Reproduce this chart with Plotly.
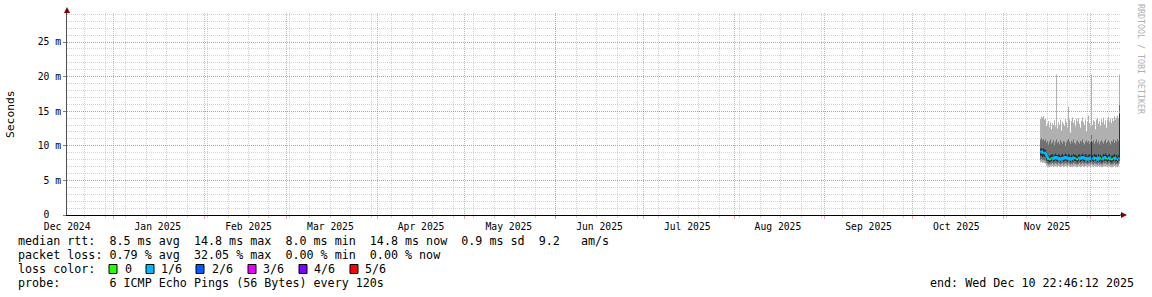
import plotly.graph_objects as go
import pandas as pd

# ---------------- data ----------------
END = pd.Timestamp("2025-12-10 22:46:12")
SPAN_DAYS = 360
START = END - pd.Timedelta(days=SPAN_DAYS)
COL_STEP = pd.Timedelta(minutes=492)   # one consolidated column

# smoke: sorted pings per column (ms)
P6 = [13.9, 14.2, 14.1, 14.3, 13.8, 14.0,
      12.9, 13.2, 13.6, 12.7, 13.4, 12.4, 13.3, 13.0, 13.7, 12.8,
      20.3, 12.5, 13.4, 13.0, 13.8, 12.2, 13.5, 13.2, 12.9, 13.9, 13.4, 12.6,
      15.7, 13.8, 11.9, 13.6, 14.1, 13.3, 13.7, 12.8, 13.9, 13.5, 14.0, 13.2, 12.6, 13.6, 14.1, 13.4, 13.0, 13.8, 12.1, 13.5, 14.4, 13.3, 12.8,
      20.3,
      13.0, 13.7, 13.5, 12.4, 13.8, 14.0, 13.2, 13.6, 12.9, 13.9, 13.4, 14.1, 13.1, 13.7, 12.6, 13.8, 14.2, 13.5, 13.9, 13.3, 14.0, 13.6, 14.3, 13.8, 14.1, 14.4, 14.0,
      20.3]
P5 = [10.9, 11.1, 10.8, 11.0, 10.7, 10.9,
      10.4, 10.7, 10.2, 10.6, 10.9, 10.3, 10.5, 10.8, 10.1, 10.6,
      10.9, 10.4, 10.6, 10.2, 10.8, 10.5, 10.3, 10.7, 10.6, 10.0, 10.5, 10.8,
      11.0, 10.6, 10.3, 10.7, 10.5, 10.9, 10.4, 10.2, 10.6, 10.8, 10.5, 10.3, 10.7, 10.6, 10.9, 10.4, 10.2, 10.6, 10.8, 10.5, 10.7, 10.3, 10.6,
      11.6,
      10.5, 10.8, 10.3, 10.6, 10.9, 10.4, 10.7, 10.2, 10.6, 10.8, 10.5, 10.3, 10.7, 10.9, 10.4, 10.6, 10.8, 10.5, 10.2, 10.7, 10.6, 10.9, 10.4, 10.8, 10.6, 11.0, 10.7,
      15.9]
P4 = [9.6, 9.7, 9.5, 9.6, 9.5, 9.4,
      9.1, 8.8, 8.6, 8.5, 8.7, 8.7, 8.8, 8.6, 8.7, 8.9,
      8.7, 8.6, 8.8, 8.7, 8.5, 8.7, 8.8, 8.6, 8.7, 8.9, 8.7, 8.6,
      8.8, 8.7, 8.5, 8.7, 8.6, 8.8, 8.7, 8.7, 8.6, 8.5, 8.7, 8.8, 8.6, 8.7, 8.9, 8.7, 8.6, 8.8, 8.7, 8.5, 8.7, 8.8, 8.6,
      10.8,
      8.7, 8.6, 8.8, 8.7, 8.7, 8.5, 8.8, 8.6, 8.7, 8.5, 8.6, 8.8, 8.7, 8.9, 8.7, 8.6, 8.7, 8.8, 8.6, 8.5, 8.6, 8.7, 8.8, 8.6, 8.7, 8.5, 8.7,
      14.8]
MEDIAN = [9.1, 9.2, 9.0, 9.1, 9.0, 8.9,
          8.6, 8.3, 8.1, 8.0, 8.1, 8.2, 8.3, 8.1, 8.2, 8.4,
          8.2, 8.1, 8.3, 8.2, 8.0, 8.2, 8.3, 8.1, 8.2, 8.4, 8.2, 8.1,
          8.3, 8.2, 8.0, 8.2, 8.1, 8.3, 8.2, 8.2, 8.1, 8.0, 8.2, 8.3, 8.1, 8.2, 8.4, 8.2, 8.1, 8.3, 8.2, 8.0, 8.2, 8.3, 8.1,
          10.8,
          8.2, 8.1, 8.3, 8.2, 8.2, 8.0, 8.3, 8.1, 8.2, 8.0, 8.1, 8.3, 8.2, 8.4, 8.2, 8.1, 8.2, 8.3, 8.1, 8.0, 8.1, 8.2, 8.3, 8.1, 8.2, 8.0, 8.2,
          14.8]
P3 = [8.5, 8.6, 8.4, 8.5, 8.4, 8.3,
      7.9, 7.8, 7.7, 7.6, 7.7, 7.8, 7.9, 7.7, 7.8, 7.9,
      7.8, 7.7, 7.9, 7.8, 7.6, 7.8, 7.9, 7.7, 7.8, 7.9, 7.8, 7.7,
      7.9, 7.8, 7.6, 7.8, 7.7, 7.9, 7.8, 7.8, 7.7, 7.6, 7.8, 7.9, 7.7, 7.8, 7.9, 7.8, 7.7, 7.9, 7.8, 7.6, 7.8, 7.9, 7.7,
      8.0,
      7.8, 7.7, 7.9, 7.8, 7.8, 7.6, 7.9, 7.7, 7.8, 7.6, 7.7, 7.9, 7.8, 7.9, 7.8, 7.7, 7.8, 7.9, 7.7, 7.6, 7.7, 7.8, 7.9, 7.7, 7.8, 7.6, 7.8,
      8.3]
P2 = [8.0, 8.1, 7.9, 8.0, 7.9, 7.8,
      7.5, 7.4, 7.3, 7.3, 7.4, 7.4, 7.5, 7.3, 7.4, 7.5,
      7.4, 7.3, 7.5, 7.4, 7.3, 7.4, 7.5, 7.3, 7.4, 7.5, 7.4, 7.3,
      7.5, 7.4, 7.3, 7.4, 7.3, 7.5, 7.4, 7.4, 7.3, 7.3, 7.4, 7.5, 7.3, 7.4, 7.5, 7.4, 7.3, 7.5, 7.4, 7.3, 7.4, 7.5, 7.3,
      7.6,
      7.4, 7.3, 7.5, 7.4, 7.4, 7.3, 7.5, 7.3, 7.4, 7.3, 7.3, 7.5, 7.4, 7.5, 7.4, 7.3, 7.4, 7.5, 7.3, 7.3, 7.3, 7.4, 7.5, 7.3, 7.4, 7.3, 7.4,
      7.8]
P1 = [7.6, 7.7, 7.5, 7.6, 7.5, 7.4,
      7.1, 7.0, 6.9, 6.9, 7.0, 7.0, 7.1, 6.9, 7.0, 7.1,
      7.0, 6.9, 7.1, 7.0, 6.9, 7.0, 7.1, 6.9, 7.0, 7.1, 7.0, 6.9,
      7.1, 7.0, 6.9, 7.0, 6.9, 7.1, 7.0, 7.0, 6.9, 6.9, 7.0, 7.1, 6.9, 7.0, 7.1, 7.0, 6.9, 7.1, 7.0, 6.9, 7.0, 7.1, 6.9,
      7.2,
      7.0, 6.9, 7.1, 7.0, 7.0, 6.9, 7.1, 6.9, 7.0, 6.9, 6.9, 7.1, 7.0, 7.1, 7.0, 6.9, 7.0, 7.1, 6.9, 6.9, 6.9, 7.0, 7.1, 6.9, 7.0, 6.9, 7.0,
      7.4]
# lost pings (out of 6) per column
LOSS = [1, 1, 1, 1, 1, 1,
        1, 1, 1, 0, 0, 1, 1, 1, 1, 1,
        1, 1, 1, 1, 1, 1, 1, 1, 1, 1, 1, 1,
        1, 1, 1, 1, 1, 1, 1, 1, 0, 0, 1, 1, 1, 1, 1, 1, 1, 1, 1, 1, 1, 1, 1,
        0,
        1, 1, 1, 1, 1, 1, 1, 1, 0, 1, 1, 1, 1, 1, 0, 1, 1, 1, 1, 0, 0, 1, 1, 1, 1, 0, 1,
        0]

MONTH_STARTS = ["2024-12-01", "2025-01-01", "2025-02-01", "2025-03-01", "2025-04-01",
                "2025-05-01", "2025-06-01", "2025-07-01", "2025-08-01", "2025-09-01",
                "2025-10-01", "2025-11-01", "2025-12-01"]
MONTH_LABELS = ["Dec 2024", "Jan 2025", "Feb 2025", "Mar 2025", "Apr 2025", "May 2025",
                "Jun 2025", "Jul 2025", "Aug 2025", "Sep 2025", "Oct 2025", "Nov 2025"]
FIRST_WEEK_START = "2024-12-22"
YTICK_VALS = [0, 5, 10, 15, 20, 25]
YTICK_TEXT = ["0\u00a0\u00a0", "5 m", "10 m", "15 m", "20 m", "25 m"]
Y_MAX = 29.2

LOSS_COLORS = ["#26ff00", "#00b8ff", "#0059ff", "#e600ff", "#7e00ff", "#ff0000"]
LOSS_NAMES = ["0", "1/6", "2/6", "3/6", "4/6", "5/6"]
SMOKE_COLORS = ["#b0b0b0", "#717171", "#323232"]

LEGEND_ROWS = [
    "median rtt:  8.5 ms avg  14.8 ms max  8.0 ms min  14.8 ms now  0.9 ms sd  9.2   am/s",
    "packet loss: 0.79 % avg  32.05 % max  0.00 % min  0.00 % now",
    "loss color:",
    "probe:       6 ICMP Echo Pings (56 Bytes) every 120s",
]
END_TEXT = "end: Wed Dec 10 22:46:12 2025"
SIDE_TEXT = "RRDTOOL / TOBI OETIKER"

# ---------------- layout constants ----------------
W, H = 1152, 297
ML, MR, MT, MB = 67, 32, 13, 82
PW, PH = W - ML - MR, H - MT - MB
MGRID = "rgba(232,80,80,0.5)"
GRID = "rgba(150,150,150,0.42)"
ARROW = "#7f0000"
FONT = "DejaVu Sans Mono"


def pxx(px):
    return (px - ML) / PW


def pxy(py):
    return (H - MB - py) / PH


N = len(MEDIAN)
edges = [END - COL_STEP * (N - i) for i in range(N + 1)]


def stepped(vals):
    return list(vals) + [vals[-1]]


fig = go.Figure()

# smoke bands
for lo, hi, col in [(P1, P6, SMOKE_COLORS[0]), (P2, P5, SMOKE_COLORS[1]), (P3, P4, SMOKE_COLORS[2])]:
    fig.add_trace(go.Scatter(x=edges, y=stepped(lo), mode="lines", line=dict(width=0, shape="hv"),
                             hoverinfo="skip", showlegend=False))
    fig.add_trace(go.Scatter(x=edges, y=stepped(hi), mode="lines", line=dict(width=0, shape="hv"),
                             fill="tonexty", fillcolor=col, hoverinfo="skip", showlegend=False))

# median, coloured by loss
for lvl, col in enumerate(LOSS_COLORS):
    xs, ys = [], []
    i = 0
    while i < N:
        if LOSS[i] == lvl:
            while i < N and LOSS[i] == lvl:
                xs += [edges[i], edges[i + 1]]
                ys += [MEDIAN[i], MEDIAN[i]]
                i += 1
            xs.append(None)
            ys.append(None)
        else:
            i += 1
    if xs:
        fig.add_trace(go.Scatter(x=xs, y=ys, mode="lines", line=dict(color=col, width=2),
                                 hoverinfo="skip", showlegend=False, connectgaps=False))

# helper trace for label axis
fig.add_trace(go.Scatter(x=[START, END], y=[0, 0], xaxis="x2", mode="lines",
                         line=dict(width=0), hoverinfo="skip", showlegend=False))

label_pos = [pd.Timestamp(m) + pd.Timedelta(days=15) for m in MONTH_STARTS[:len(MONTH_LABELS)]]
week_ticks = list(pd.date_range(start=FIRST_WEEK_START, end=END, freq="7D"))

fig.update_layout(
    width=W, height=H, margin=dict(l=ML, r=MR, t=MT, b=MB, pad=0),
    paper_bgcolor="white", plot_bgcolor="white", showlegend=False,
    font=dict(family=FONT, size=9.7, color="black"),
    xaxis=dict(type="date", range=[START, END], tickmode="array", tickvals=MONTH_STARTS,
               showticklabels=False, showgrid=True, gridcolor=MGRID, griddash="1px,1px", gridwidth=1,
               ticks="outside", ticklen=3, tickcolor=MGRID, showline=True, linecolor="black",
               linewidth=1, zeroline=False,
               minor=dict(tickmode="array", tickvals=week_ticks, showgrid=True,
                          gridcolor=GRID, griddash="1px,1px", gridwidth=1,
                          ticks="outside", ticklen=2, tickcolor=GRID)),
    xaxis2=dict(type="date", overlaying="x", anchor="y", side="bottom", range=[START, END],
                tickmode="array", tickvals=label_pos, ticktext=MONTH_LABELS, showgrid=False,
                showline=False, zeroline=False, ticks="", ticklabelstandoff=4,
                tickfont=dict(size=9.7, family=FONT, color="black")),
    yaxis=dict(range=[0, Y_MAX], tickmode="array", tickvals=YTICK_VALS, ticktext=YTICK_TEXT,
               showgrid=True, gridcolor=MGRID, griddash="1px,1px", gridwidth=1,
               ticks="outside", ticklen=3, tickcolor="#808080", showline=True, linecolor="#505050",
               linewidth=1, zeroline=False, tickfont=dict(size=9.7, family=FONT, color="black"),
               minor=dict(tickmode="linear", tick0=0, dtick=1, showgrid=True, gridcolor=GRID,
                          griddash="1px,1px", gridwidth=1)),
)

# axis arrows
fig.add_shape(type="path", xref="paper", yref="paper", xsizemode="pixel", ysizemode="pixel",
              xanchor=0, yanchor=1, path="M -3,0 L 3,0 L 0,6 Z", fillcolor=ARROW,
              line=dict(width=0), layer="above")
fig.add_shape(type="path", xref="paper", yref="paper", xsizemode="pixel", ysizemode="pixel",
              xanchor=1, yanchor=0, path="M 1,-3 L 1,3 L 7,0 Z", fillcolor=ARROW,
              line=dict(width=0), layer="above")
fig.add_shape(type="line", xref="paper", yref="paper", xsizemode="pixel", ysizemode="pixel",
              xanchor=1, yanchor=0, x0=0, x1=2, y0=0, y1=0, line=dict(color="black", width=1))

# y title
fig.add_annotation(text="Seconds", xref="paper", yref="paper", x=pxx(10), y=pxy(114),
                   xanchor="center", yanchor="middle", textangle=-90, showarrow=False,
                   font=dict(family=FONT, size=11.3, color="black"))
# side credit
fig.add_annotation(text=SIDE_TEXT, xref="paper", yref="paper", x=pxx(1141), y=pxy(59),
                   xanchor="center", yanchor="middle", textangle=90, showarrow=False,
                   font=dict(family=FONT, size=8.3, color="#b0b0b0"))

ROW_Y = [241, 255, 269, 283]
for txt, ry in zip(LEGEND_ROWS, ROW_Y):
    fig.add_annotation(text=txt.replace(" ", "\u00a0"), xref="paper", yref="paper", x=pxx(16),
                       y=pxy(ry), xanchor="left", yanchor="middle", showarrow=False,
                       font=dict(family=FONT, size=11.7, color="black"))
fig.add_annotation(text=END_TEXT.replace(" ", "\u00a0"), xref="paper", yref="paper", x=pxx(1136),
                   y=pxy(ROW_Y[3]), xanchor="right", yanchor="middle", showarrow=False,
                   font=dict(family=FONT, size=11.7, color="black"))

BOX_X = [109, 146, 196, 248, 299, 350]
BOX_LABEL_X = [123, 159, 210, 261, 312, 363]
for bx, lx, col, name in zip(BOX_X, BOX_LABEL_X, LOSS_COLORS, LOSS_NAMES):
    fig.add_shape(type="rect", xref="paper", yref="paper", x0=pxx(bx), x1=pxx(bx + 8),
                  y0=pxy(ROW_Y[2] + 4.5), y1=pxy(ROW_Y[2] - 4.5), fillcolor=col,
                  line=dict(color="black", width=1))
    fig.add_annotation(text=name, xref="paper", yref="paper", x=pxx(lx), y=pxy(ROW_Y[2]),
                       xanchor="left", yanchor="middle", showarrow=False,
                       font=dict(family=FONT, size=11.7, color="black"))

fig.write_html("out.html")
